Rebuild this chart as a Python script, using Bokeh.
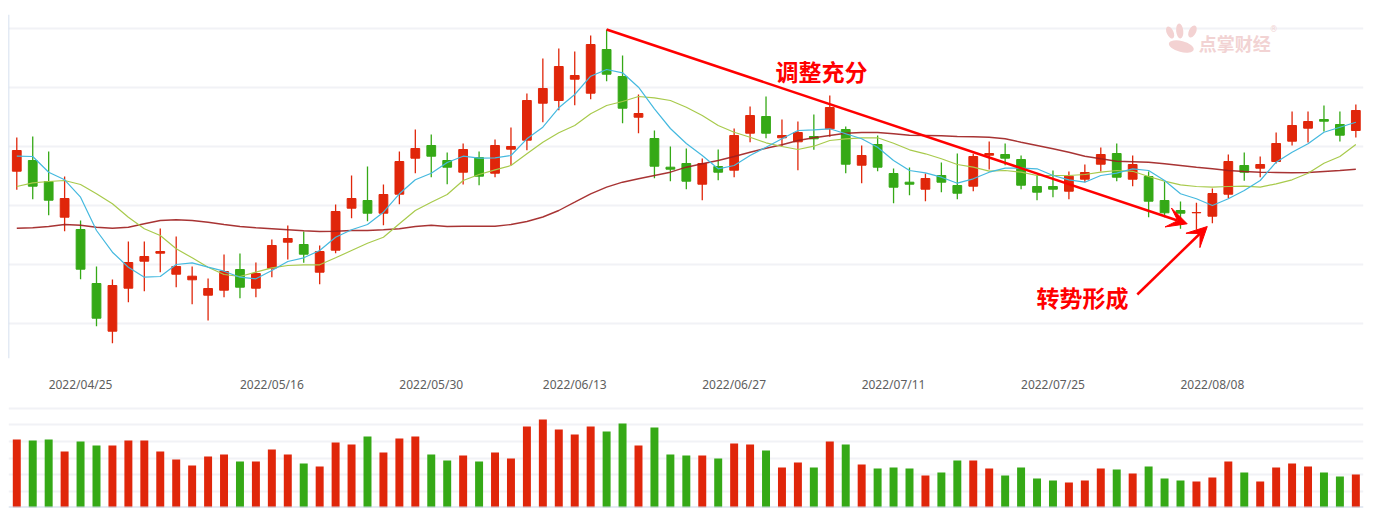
import pandas as pd
from bokeh.plotting import figure
from bokeh.layouts import column
from bokeh.models import (ColumnDataSource, FixedTicker, Span, Label, Arrow,
                          VeeHead, Range1d, Grid)
from bokeh.embed import file_html
from bokeh.resources import INLINE

# ---------------- data ----------------
holidays = ["2022-05-02", "2022-05-03", "2022-05-04", "2022-06-03"]
days = [d for d in pd.bdate_range("2022-04-19", "2022-08-19")
        if d.strftime("%Y-%m-%d") not in holidays]
dates = [d.strftime("%Y/%m/%d") for d in days]

tick_labels = ["2022/04/25", "2022/05/16", "2022/05/30", "2022/06/13",
               "2022/06/27", "2022/07/11", "2022/07/25", "2022/08/08"]

open_ = [22.93, 24.00, 21.90, 18.33, 17.10, 11.70, 6.93, 11.23, 13.93, 14.73,
         12.63, 12.07, 10.53, 11.03, 13.10, 11.23, 13.23, 15.83, 15.60, 12.83,
         15.03, 19.23, 20.00, 18.73, 20.63, 24.23, 25.50, 24.00, 22.83, 24.30,
         22.73, 25.13, 26.03, 29.73, 30.00, 32.13, 30.73, 35.10, 32.40, 28.33,
         26.20, 23.33, 23.70, 21.63, 23.40, 23.03, 26.73, 28.40, 26.27, 25.87,
         26.40, 27.17, 27.10, 23.53, 25.60, 22.70, 21.83, 21.13, 22.50, 21.50,
         21.43, 24.53, 24.60, 24.10, 21.40, 21.40, 20.93, 22.13, 23.63, 24.70,
         22.13, 22.40, 20.00, 19.00, 18.77, 18.43, 20.63, 23.50, 23.23, 23.90,
         25.93, 27.23, 28.10, 27.60, 27.00]
high = [26.30, 26.40, 24.90, 22.40, 18.00, 13.40, 12.10, 15.90, 15.90, 17.20,
        16.40, 13.40, 12.20, 14.60, 14.70, 13.80, 16.10, 17.50, 16.90, 15.50,
        19.60, 22.50, 23.40, 21.60, 24.90, 27.10, 26.60, 24.80, 25.70, 24.90,
        26.10, 27.30, 30.70, 34.20, 35.20, 34.90, 36.50, 37.10, 34.50, 30.60,
        27.00, 25.40, 25.20, 24.20, 25.10, 27.20, 29.40, 30.40, 28.10, 27.90,
        28.60, 30.50, 27.40, 25.50, 26.50, 23.20, 23.30, 22.70, 23.80, 24.70,
        24.67, 25.90, 25.70, 24.50, 22.47, 23.00, 22.90, 23.60, 25.30, 25.70,
        24.50, 22.90, 21.90, 19.90, 19.77, 21.20, 24.60, 24.80, 24.40, 26.80,
        28.90, 28.90, 29.50, 28.90, 29.60]
low = [21.07, 20.13, 18.53, 16.93, 12.13, 7.43, 5.73, 9.83, 10.93, 12.83,
       11.33, 9.63, 8.00, 10.33, 10.23, 10.33, 12.33, 14.10, 13.77, 11.63,
       14.73, 18.23, 17.93, 17.53, 19.63, 22.73, 22.33, 21.63, 21.60, 21.53,
       22.33, 23.53, 25.03, 27.83, 29.03, 29.53, 30.13, 31.93, 27.73, 26.73,
       22.23, 21.93, 21.13, 20.03, 22.03, 22.33, 25.83, 26.23, 25.43, 23.03,
       25.07, 26.37, 22.73, 21.73, 22.93, 19.73, 20.53, 19.93, 20.83, 20.13,
       20.93, 23.10, 23.53, 21.13, 20.03, 20.33, 20.13, 21.83, 22.90, 21.93,
       21.43, 18.33, 18.33, 17.17, 17.07, 17.73, 20.23, 21.97, 22.33, 23.70,
       25.50, 25.80, 26.90, 25.90, 26.30]
close = [25.00, 21.43, 20.03, 20.20, 13.13, 8.23, 11.50, 13.80, 14.40, 14.90,
         13.40, 12.43, 11.20, 12.90, 11.33, 12.70, 15.50, 16.20, 14.63, 14.90,
         18.90, 20.20, 18.73, 20.60, 23.90, 25.20, 24.43, 23.33, 25.10, 22.43,
         25.50, 25.40, 30.00, 31.20, 33.40, 32.50, 35.60, 32.63, 29.23, 28.70,
         23.43, 23.13, 21.93, 23.70, 22.83, 26.50, 28.50, 26.73, 26.50, 26.80,
         26.17, 29.30, 23.63, 24.50, 23.33, 21.33, 21.63, 22.20, 21.83, 20.73,
         24.40, 24.70, 24.23, 21.53, 20.83, 21.13, 22.43, 22.80, 24.60, 22.33,
         23.60, 19.93, 18.77, 18.73, 18.80, 20.70, 23.90, 22.83, 23.60, 25.70,
         27.50, 27.90, 27.93, 26.53, 29.00]

ma5 = [24.43, 24.40, 22.83, 22.07, 20.33, 17.00, 14.83, 13.33, 12.33, 12.40,
       13.60, 13.77, 13.33, 12.93, 12.33, 12.17, 13.00, 13.90, 14.27, 15.00,
       16.33, 17.07, 17.60, 18.83, 20.67, 22.07, 22.73, 23.80, 24.43, 24.23,
       24.27, 24.50, 26.17, 27.33, 29.27, 30.60, 32.43, 33.10, 32.77, 31.33,
       29.17, 27.20, 25.70, 24.50, 23.17, 23.50, 24.50, 25.33, 26.17, 27.00,
       27.07, 27.17, 26.67, 26.17, 25.33, 24.00, 23.00, 22.77, 22.33, 21.73,
       22.17, 22.83, 23.23, 23.23, 23.17, 22.50, 22.07, 21.83, 22.50, 22.73,
       23.17, 23.00, 22.00, 20.67, 20.17, 19.50, 20.17, 21.00, 22.00, 23.83,
       24.83, 25.67, 26.83, 27.33, 27.83]
ma10 = [21.40, 21.77, 21.90, 22.00, 21.60, 20.67, 19.67, 18.33, 17.17, 16.50,
        15.17, 14.27, 13.33, 12.60, 12.40, 12.83, 13.27, 13.50, 13.57, 13.57,
        14.27, 15.00, 15.73, 16.33, 17.67, 19.00, 19.83, 20.60, 22.00, 22.60,
        23.07, 23.50, 24.67, 25.83, 26.77, 27.50, 28.67, 29.50, 29.90, 30.40,
        30.27, 30.00, 29.33, 28.50, 27.50, 26.83, 26.33, 25.77, 25.40, 25.10,
        25.43, 26.00, 26.17, 26.27, 26.27, 25.73, 25.07, 24.67, 24.17, 23.60,
        23.33, 22.93, 23.00, 22.83, 22.50, 22.50, 22.50, 22.60, 22.83, 23.00,
        22.92, 22.40, 21.93, 21.57, 21.40, 21.33, 21.40, 21.43, 21.33, 21.67,
        22.07, 22.73, 23.73, 24.40, 25.60]
ma60 = [17.23, 17.27, 17.40, 17.60, 17.53, 17.33, 17.23, 17.33, 17.67, 18.00,
        18.07, 18.00, 17.83, 17.60, 17.40, 17.27, 17.17, 17.07, 16.97, 16.90,
        16.93, 17.00, 17.00, 17.07, 17.17, 17.40, 17.53, 17.40, 17.43, 17.43,
        17.43, 17.60, 17.90, 18.35, 19.00, 19.83, 20.67, 21.33, 21.83, 22.17,
        22.50, 22.83, 23.33, 23.67, 24.00, 24.40, 24.83, 25.23, 25.57, 26.00,
        26.27, 26.50, 26.73, 26.80, 26.80, 26.67, 26.53, 26.50, 26.47, 26.40,
        26.37, 26.33, 26.17, 25.83, 25.50, 25.17, 24.83, 24.43, 24.17, 23.93,
        23.88, 23.83, 23.67, 23.50, 23.33, 23.17, 23.00, 22.90, 22.83, 22.80,
        22.77, 22.80, 22.90, 23.00, 23.13]

volume = [6.8, 6.7, 6.8, 5.6, 6.6, 6.2, 6.2, 6.7, 6.7, 5.6,
          4.8, 4.2, 5.1, 5.3, 4.6, 4.6, 5.8, 5.3, 4.4, 4.1,
          6.5, 6.3, 7.1, 5.5, 6.9, 7.1, 5.3, 4.7, 5.2, 4.6,
          5.5, 4.9, 8.1, 8.8, 7.8, 7.3, 8.1, 7.6, 8.4, 6.2,
          8.0, 5.3, 5.2, 5.2, 4.9, 6.4, 6.3, 5.7, 4.0, 4.5,
          4.0, 6.6, 6.3, 4.3, 3.9, 4.0, 3.9, 3.2, 3.5, 4.7,
          4.7, 3.9, 3.2, 4.0, 2.9, 2.7, 2.5, 2.7, 3.9, 3.8,
          3.4, 4.1, 2.9, 2.7, 2.6, 3.0, 4.6, 3.5, 2.6, 4.0,
          4.4, 4.1, 3.5, 3.1, 3.3]

# ---------------- styling ----------------
UP = "#e0260a"
DOWN = "#35a916"
GRID = "#f1f2f6"

idx = list(range(len(dates)))
colors = [UP if c >= o else DOWN for o, c in zip(open_, close)]
src = ColumnDataSource(dict(x=idx, o=open_, h=high, l=low, c=close,
                            top=[max(a, b) for a, b in zip(open_, close)],
                            bot=[min(a, b) for a, b in zip(open_, close)],
                            col=colors, vol=volume,
                            ma5=ma5, ma10=ma10, ma60=ma60))

x_range = Range1d(-0.52, 84.48)

p1 = figure(width=1379, height=400, x_range=x_range, y_range=Range1d(4.2, 38.6),
            y_axis_location=None, toolbar_location=None, output_backend="svg",
            min_border_left=8, min_border_right=16, min_border_top=14,
            min_border_bottom=42)
p1.outline_line_color = None
for g in p1.grid:
    g.visible = False
p1.add_layout(Grid(dimension=1, ticker=FixedTicker(ticks=[7.7, 13.6, 19.5, 25.4, 31.3, 37.2]),
                   grid_line_color=GRID, grid_line_width=2))

tick_idx = [dates.index(t) for t in tick_labels]
ax = p1.xaxis[0]
ax.ticker = FixedTicker(ticks=tick_idx)
ax.major_label_overrides = {i: t for i, t in zip(tick_idx, tick_labels)}
ax.axis_line_color = None
ax.major_tick_line_color = None
ax.minor_tick_line_color = None
ax.major_label_standoff = 11
ax.major_label_text_font = "Noto Sans"
ax.major_label_text_font_size = "12px"
ax.major_label_text_color = "#5e5e5e"

p1.add_layout(Span(location=-0.52, dimension="height", line_color="#c7d6ea", line_width=1.5))

# candles
p1.segment("x", "h", "x", "l", source=src, line_color="col", line_width=1.3)
p1.vbar(x="x", top="top", bottom="bot", width=0.55, source=src,
        fill_color="col", line_color="col", line_width=1)

# moving averages
p1.line("x", "ma60", source=src, line_color="#9e1e1e", line_width=1.4, line_alpha=0.9)
p1.line("x", "ma10", source=src, line_color="#a8ca4c", line_width=1.2)
p1.line("x", "ma5", source=src, line_color="#45b9df", line_width=1.2)

# watermark
for cx, cy, w, h, a in [(72.35, 36.8, 0.42, 1.3, 0.45), (72.95, 36.95, 0.45, 1.5, 0.1),
                        (73.75, 36.9, 0.45, 1.3, -0.45), (73.05, 35.4, 1.6, 1.1, -0.25)]:
    p1.ellipse(x=cx, y=cy, width=w, height=h, angle=a, fill_color="#f3d2d2",
               line_color=None)
p1.add_layout(Label(x=76.4, y=35.8, text="点掌财经", text_font="Noto Sans CJK SC",
                    text_font_style="bold", text_font_size="18px", text_color="#f2d3d3",
                    text_align="center", text_baseline="middle"))
p1.add_layout(Label(x=78.85, y=37.1, text="®", text_font="DejaVu Sans",
                    text_font_size="8px", text_color="#f2d3d3",
                    text_align="center", text_baseline="middle"))

# annotations
p1.add_layout(Arrow(x_start=37.0, y_start=37.1, x_end=73.42, y_end=17.67,
                    line_color="#ff0000", line_width=2.5,
                    end=VeeHead(size=20, fill_color="#ff0000", line_color="#ff0000")))
p1.add_layout(Arrow(x_start=70.29, y_start=10.6, x_end=74.68, y_end=17.4,
                    line_color="#ff0000", line_width=2.5,
                    end=VeeHead(size=20, fill_color="#ff0000", line_color="#ff0000")))
p1.add_layout(Label(x=50.48, y=33.0, text="调整充分", text_font="Noto Sans CJK SC",
                    text_font_style="bold", text_font_size="23px", text_color="#ff0000",
                    text_align="center", text_baseline="middle"))
p1.add_layout(Label(x=66.86, y=10.4, text="转势形成", text_font="Noto Sans CJK SC",
                    text_font_style="bold", text_font_size="23px", text_color="#ff0000",
                    text_align="center", text_baseline="middle"))

# volume panel
p2 = figure(width=1379, height=112, x_range=x_range, y_range=Range1d(0, 10.6),
            x_axis_location=None, y_axis_location=None, toolbar_location=None,
            output_backend="svg", min_border_left=8, min_border_right=16,
            min_border_top=1, min_border_bottom=5)
p2.outline_line_color = None
for g in p2.grid:
    g.visible = False
p2.add_layout(Grid(dimension=1, ticker=FixedTicker(ticks=[1.6, 3.27, 4.93, 6.6, 8.27, 9.93]),
                   grid_line_color=GRID, grid_line_width=2))
p2.vbar(x="x", top="vol", bottom=0, width=0.5, source=src, fill_color="col",
        line_color=None)
p2.add_layout(Span(location=0, dimension="width", line_color="#c9d6e8", line_width=2))

layout = column(p1, p2)
open("out.html", "w").write(file_html(layout, INLINE))
